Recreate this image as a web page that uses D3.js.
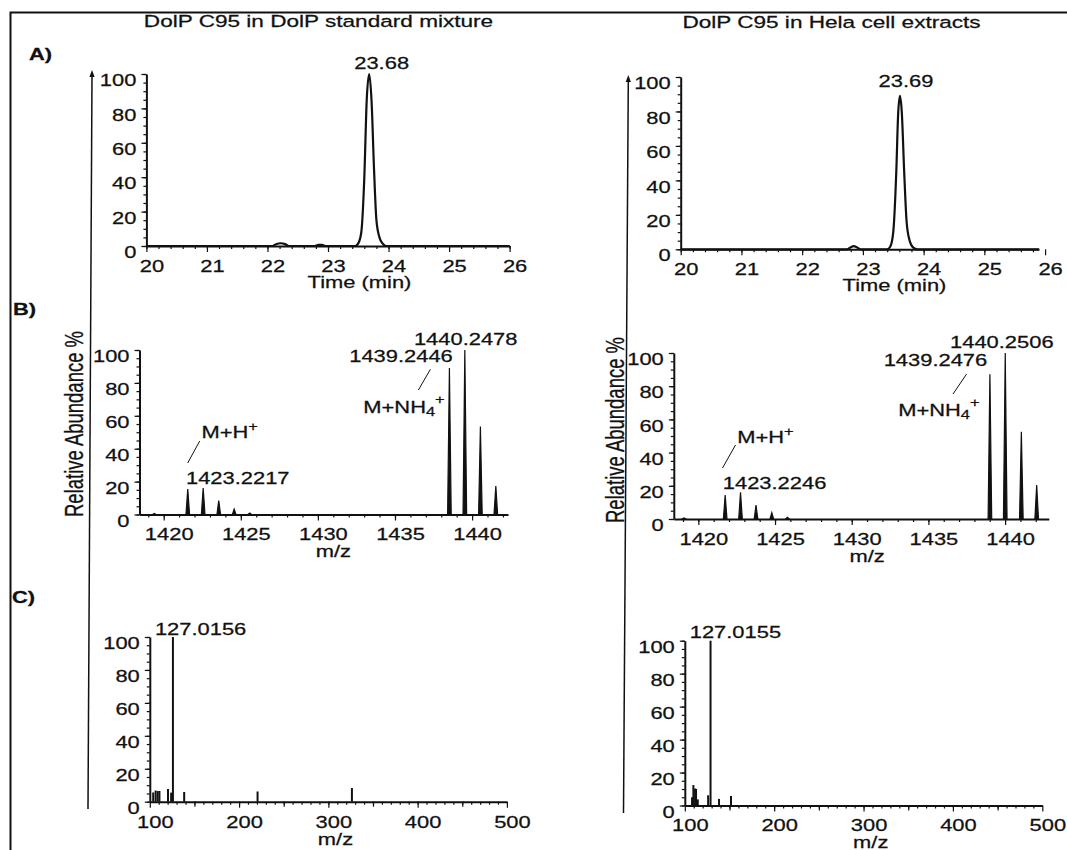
<!DOCTYPE html>
<html>
<head>
<meta charset="utf-8">
<script src="https://cdn.jsdelivr.net/npm/d3@7"></script>
<style>
body{margin:0;background:#fff}
svg text{font-family:"Liberation Sans",Arial,sans-serif;fill:#111;stroke:#111;stroke-width:0.25px}
.tick text{font-size:16px}
.tick line{stroke:#111;stroke-width:1.2}
.domain{stroke:#111;stroke-width:2}
</style>
</head>
<body>
<div id="chart"></div>
<script>
// ---- values ----
var panelTitles = ["DolP C95 in DolP standard mixture", "DolP C95 in Hela cell extracts"];
var panelLetters = ["A)", "B)", "C)"];
var yTitle = "Relative Abundance %";
var yTicks = [0, 20, 40, 60, 80, 100];

// A) extracted ion chromatograms
var timeTicks = [20, 21, 22, 23, 24, 25, 26];
var timeStd = [20, 22.08, 22.15, 22.22, 22.29, 22.35, 22.78, 22.84, 22.9, 22.96, 23.45, 23.5, 23.55, 23.6, 23.64, 23.68, 23.72, 23.76, 23.8, 23.85, 23.9, 23.96, 26];
var intStd  = [0, 0, 1.2, 1.6, 1.1, 0, 0, 0.6, 0.6, 0, 0, 1.5, 8, 40, 85, 100, 84, 45, 15, 5, 1.5, 0, 0];
var timeHela = [20, 22.74, 22.8, 22.85, 22.9, 22.96, 23.4, 23.45, 23.5, 23.55, 23.58, 23.61, 23.64, 23.68, 23.72, 23.77, 23.83, 23.9, 25.9];
var intHela  = [0, 0, 1.2, 1.8, 1.2, 0, 0, 1.5, 10, 45, 78, 89, 80, 45, 16, 5, 1, 0, 0];
var rtLabels = ["23.68", "23.69"];

// B) full scan MS
var mzTicks1 = [1420, 1425, 1430, 1435, 1440];
var ms1MzStd = [1419.39, 1421.56, 1422.56, 1423.57, 1424.57, 1425.58, 1438.53, 1439.53, 1440.54, 1441.54];
var ms1AbStd = [0.6, 15.5, 16.1, 8.4, 3.3, 0.9, 89, 100, 53.5, 17.3];
var ms1MzHela = [1419.06, 1421.75, 1422.75, 1423.76, 1424.79, 1425.81, 1439.01, 1440.01, 1441.06, 1442.06];
var ms1AbHela = [0.6, 14.5, 16.1, 8.4, 3.8, 1.0, 87.2, 100, 52.6, 20.5];
var ms1LabelsStd = ["1440.2478", "1439.2446", "1423.2217"];
var ms1LabelsHela = ["1440.2506", "1439.2476", "1423.2246"];
var adductLabels = ["M+NH", "4", "+", "M+H", "+"];
var xTitleMz = "m/z";
var xTitleTime = "Time (min)";

// C) MS/MS
var mzTicks2 = [100, 200, 300, 400, 500];
var ms2MzStd = [103.8, 106.5, 108.8, 110.8, 120.4, 123.9, 125.9, 138.5, 220.7, 326.4];
var ms2AbStd = [5.6, 6.8, 6.5, 6.5, 7.7, 5.5, 100, 5.9, 6.2, 8.3];
var ms2MzHela = [108.1, 109.6, 111.5, 112.6, 114.5, 126.1, 128.8, 138.3, 151.7];
var ms2AbHela = [5, 12.4, 10.3, 10, 3.7, 6.2, 100, 4, 5.8];
var ms2Labels = ["127.0156", "127.0155"];

// ---- drawing ----
var SX = 1.37; // the figure is stretched sideways, its lettering too
var svg = d3.select("#chart").append("svg").attr("width", 1067).attr("height", 850);

function txt(x, y, s, anchor, size, weight) {
  return svg.append("text")
    .attr("transform", "translate(" + x + "," + y + ") scale(" + SX + ",1)")
    .attr("text-anchor", anchor || "start")
    .style("font-size", (size || 16) + "px")
    .style("font-weight", weight || "normal")
    .text(s);
}

function seg(x1, y1, x2, y2, w) {
  svg.append("line").attr("x1", x1).attr("y1", y1).attr("x2", x2).attr("y2", y2)
    .attr("stroke", "#111").attr("stroke-width", w || 1);
}

// y axis + x axis for one panel
function frame(p, major, minor, mid) {
  var x = d3.scaleLinear().domain(p.xd).range(p.xr);
  var y = d3.scaleLinear().domain([0, 100]).range(p.yr);
  var fmt = d3.format("d");

  var gy = svg.append("g").attr("transform", "translate(" + p.xr[0] + ",0)");
  gy.call(d3.axisLeft(y).tickValues(d3.range(0, 101, 5)).tickSize(3).tickFormat("").tickSizeOuter(0));
  var gyl = gy.append("g").call(d3.axisLeft(y).tickValues(yTicks).tickSize(5).tickFormat(fmt).tickSizeOuter(0));
  gyl.select(".domain").remove();
  gyl.selectAll("text").attr("x", -10 / SX).attr("y", 6.5)
    .attr("transform", "scale(" + SX + ",1)");

  var gx = svg.append("g").attr("transform", "translate(0," + p.yr[0] + ")");
  gx.call(d3.axisBottom(x).tickValues(minor).tickSize(3).tickFormat("").tickSizeOuter(0));
  if (mid) {
    gx.append("g").call(d3.axisBottom(x).tickValues(mid).tickSize(5).tickFormat("").tickSizeOuter(0))
      .select(".domain").remove();
  }
  var gxl = gx.append("g").call(d3.axisBottom(x).tickValues(major).tickSize(6).tickFormat(fmt).tickSizeOuter(0));
  gxl.select(".domain").remove();
  gxl.selectAll("text").attr("x", 5 / SX).attr("y", 14.6)
    .attr("transform", "scale(" + SX + ",1)");
  return {x: x, y: y};
}

function chrom(s, t, v) {
  var line = d3.line().x(function (d) { return s.x(d[0]); }).y(function (d) { return s.y(d[1]); })
    .curve(d3.curveMonotoneX);
  svg.append("path").datum(d3.zip(t, v)).attr("d", line)
    .attr("fill", "none").attr("stroke", "#111").attr("stroke-width", 2.2);
}

function profile(s, mz, ab) {
  svg.selectAll(null).data(d3.zip(mz, ab)).enter().append("path")
    .attr("d", function (d) {
      var cx = s.x(d[0]), y0 = s.y(0);
      return "M" + (cx - 1.8) + "," + y0 + "L" + cx + "," + s.y(d[1]) + "L" + (cx + 1.8) + "," + y0 + "Z";
    })
    .attr("fill", "#111").attr("stroke", "#111").attr("stroke-width", 1.2);
}

function sticks(s, mz, ab) {
  svg.selectAll(null).data(d3.zip(mz, ab)).enter().append("line")
    .attr("x1", function (d) { return s.x(d[0]); }).attr("x2", function (d) { return s.x(d[0]); })
    .attr("y1", s.y(0)).attr("y2", function (d) { return s.y(d[1]); })
    .attr("stroke", "#111").attr("stroke-width", 2);
}

function adduct(x, y, main, sub, sup) {
  var t = txt(x, y, "", "start", 16);
  t.append("tspan").text(main);
  if (sub) t.append("tspan").attr("dy", 3).style("font-size", "12px").text(sub);
  t.append("tspan").attr("dy", sub ? -12 : -7).style("font-size", "12px").text(sup);
}

// outer frame
svg.append("path").attr("d", "M10.5,850V12.5H1067").attr("fill", "none")
  .attr("stroke", "#111").attr("stroke-width", 2);

// long column arrows
[[92, 72, 88, 809], [628.3, 77, 623.5, 813]].forEach(function (a) {
  seg(a[2], a[3], a[0], a[1] + 4, 1.5);
  svg.append("path").attr("d", "M" + a[0] + "," + (a[1] - 2) + "l-2.6,7h5.2z").attr("fill", "#111");
});

txt(318.5, 27, panelTitles[0], "middle", 16.5);
txt(831.5, 28, panelTitles[1], "middle", 16.5);
txt(29, 60, panelLetters[0], "start", 16, "bold");
txt(13, 315, panelLetters[1], "start", 16, "bold");
txt(12, 603, panelLetters[2], "start", 16, "bold");

[[82.5, 424], [624, 430]].forEach(function (c) {
  svg.append("text")
    .attr("transform", "translate(" + c[0] + "," + c[1] + ") scale(" + SX + ",1) rotate(-90)")
    .attr("text-anchor", "middle").style("font-size", "18.5px").text(yTitle);
});

// ---- A ----
var aL = frame({xd: [20, 26], xr: [146.4, 509.6], yr: [246, 74]}, timeTicks, d3.range(20, 26.01, 0.2));
chrom(aL, timeStd, intStd);
txt(aL.x(23.68) + 12.5, 69, rtLabels[0], "middle");
txt(aL.x(23.52), 288, xTitleTime, "middle");

var aR = frame({xd: [20, 25.9], xr: [680.7, 1039], yr: [249.3, 77]}, timeTicks, d3.range(20, 25.91, 0.2));
chrom(aR, timeHela, intHela);
txt(aR.x(23.61) + 6, 87, rtLabels[1], "middle");
txt(aR.x(23.52), 291, xTitleTime, "middle");

// ---- B ----
var bL = frame({xd: [1418.43, 1442.33], xr: [139.5, 508], yr: [514.5, 350]}, mzTicks1, d3.range(1419, 1443, 1));
profile(bL, ms1MzStd, ms1AbStd);
txt(465.7, 345, ms1LabelsStd[0], "middle");
txt(452.8, 362, ms1LabelsStd[1], "end");
seg(430.4, 369.3, 418.4, 390);
adduct(363.3, 413, adductLabels[0], adductLabels[1], adductLabels[2]);
adduct(201.4, 438, adductLabels[3], null, adductLabels[4]);
seg(199.7, 441, 187.7, 463);
txt(186, 484, ms1LabelsStd[2], "start");
txt(bL.x(1431), 557, xTitleMz, "middle");

var bR = frame({xd: [1418.4, 1442.85], xr: [673.8, 1048.8], yr: [519, 353]}, mzTicks1, d3.range(1419, 1443, 1));
profile(bR, ms1MzHela, ms1AbHela);
txt(1001.8, 348, ms1LabelsHela[0], "middle");
txt(987.2, 366, ms1LabelsHela[1], "end");
seg(966.6, 374, 953, 394);
adduct(898.2, 416, adductLabels[0], adductLabels[1], adductLabels[2]);
adduct(737.2, 443, adductLabels[3], null, adductLabels[4]);
seg(735.5, 445, 722.5, 468);
txt(722.8, 489, ms1LabelsHela[2], "start");
txt(bR.x(1431), 562, xTitleMz, "middle");

// ---- C ----
var cL = frame({xd: [100, 500], xr: [149.8, 506.9], yr: [801.7, 637]}, mzTicks2, d3.range(110, 500, 10), d3.range(150, 500, 100));
sticks(cL, ms2MzStd, ms2AbStd);
txt(200.6, 635, ms2Labels[0], "middle");
txt(cL.x(308), 845, xTitleMz, "middle");

var cR = frame({xd: [100, 500], xr: [684.8, 1042.3], yr: [805.5, 640.7]}, mzTicks2, d3.range(110, 500, 10), d3.range(150, 500, 100));
sticks(cR, ms2MzHela, ms2AbHela);
txt(735.4, 638, ms2Labels[1], "middle");
txt(cR.x(308), 848, xTitleMz, "middle");
</script>
</body>
</html>
